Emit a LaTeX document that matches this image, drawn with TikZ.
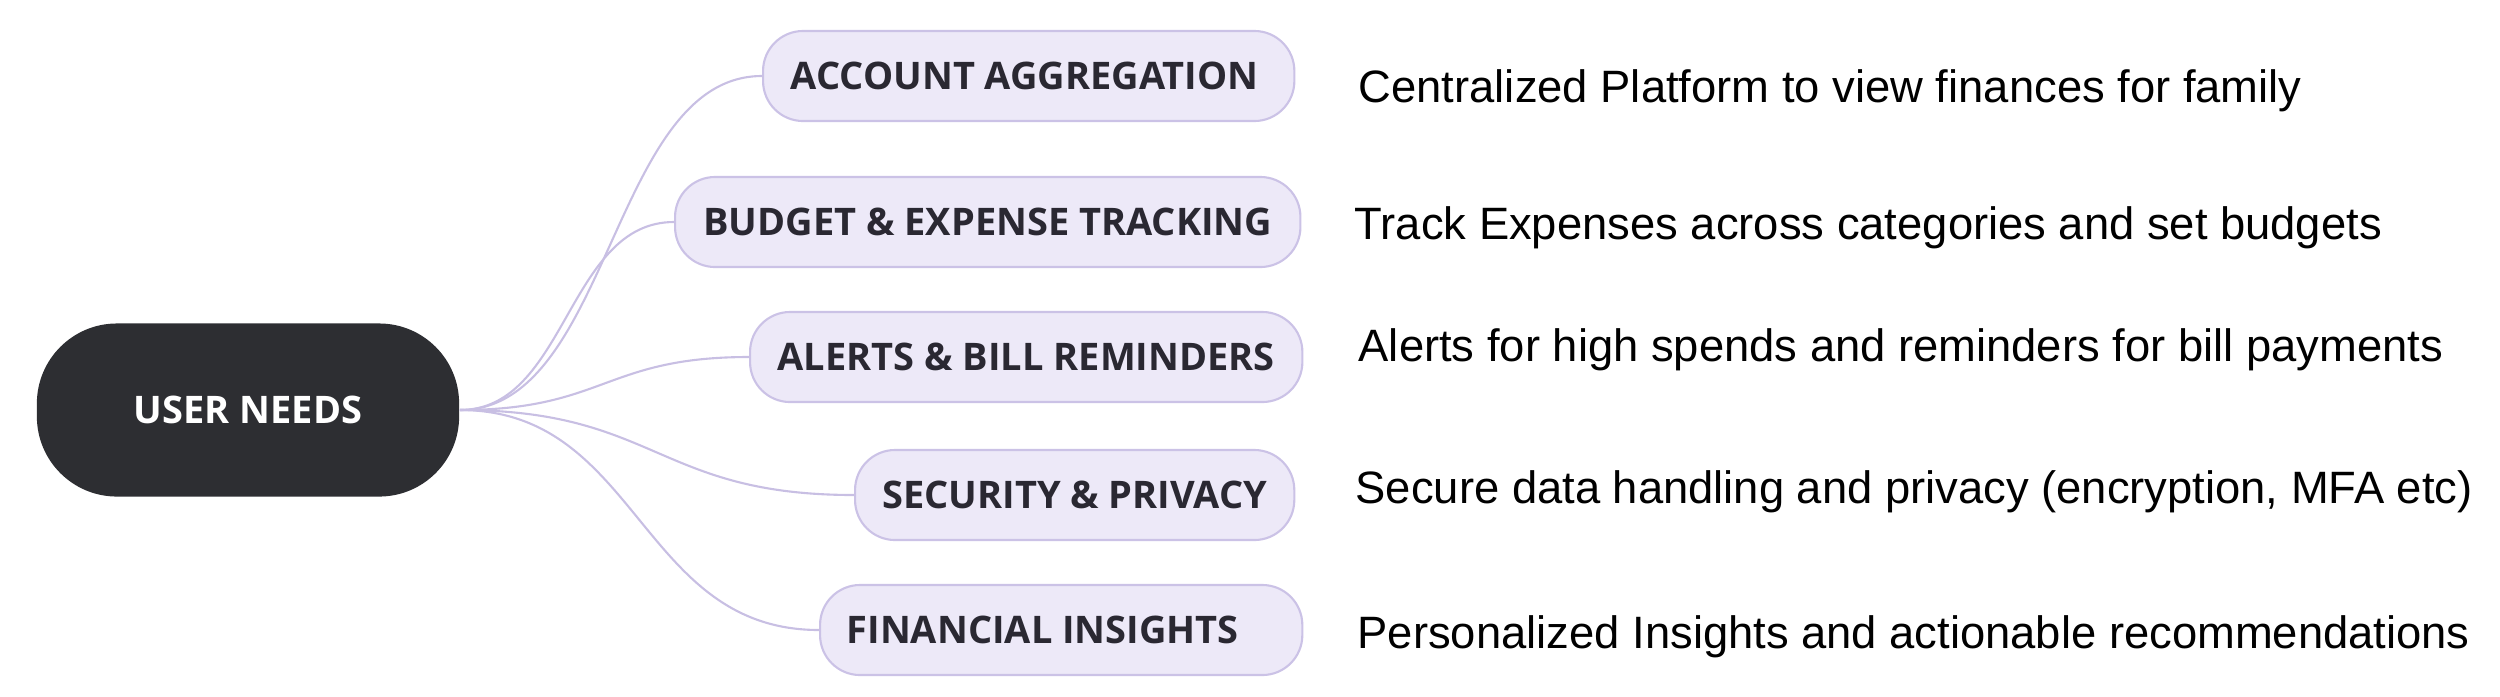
\documentclass[tikz,border=0pt]{standalone}
\usepackage{fontspec}
\setmainfont{Liberation Sans}
\newfontfamily\mapfont{Open Sans}
\usetikzlibrary{calc}

\definecolor{rootfill}{HTML}{2D2E32}
\definecolor{needfill}{HTML}{EDE9F8}
\definecolor{needline}{HTML}{CBC2E6}
\definecolor{linkcol}{HTML}{C8BFE3}
\definecolor{needtext}{HTML}{2A2832}

\tikzset{
  root/.style={fill=rootfill, rounded corners=0.8cm, minimum width=4.22cm,
    minimum height=1.73cm, text=white,
    font=\mapfont\bfseries\fontsize{10.8}{13}\selectfont},
  need/.style={draw=needline, line width=0.6pt, fill=needfill,
    rounded corners=0.4cm, anchor=west, minimum height=0.9cm,
    inner xsep=0.26cm, text=needtext,
    font=\mapfont\bfseries\fontsize{10.8}{13}\selectfont},
  note/.style={anchor=base west, inner sep=0pt,
    font=\fontsize{12.9}{15}\selectfont},
  link/.style={draw=linkcol, line width=0.6pt},
}

\begin{document}
\begin{tikzpicture}[x=0.01cm, y=-0.01cm]
  \useasboundingbox (0,0) rectangle (2500,696);

  % centre
  \node[root] (root) at (248,410) {USER NEEDS};

  % needs
  \node[need, minimum width=5.31cm] (acc) at (762,76) {ACCOUNT AGGREGATION\kern0.08cm};
  \node[need, minimum width=6.25cm] (bud) at (674,222) {BUDGET \& EXPENSE TRACKING};
  \node[need, minimum width=5.52cm] (alr) at (749,357) {ALERTS \& BILL REMINDERS};
  \node[need, minimum width=4.39cm] (sec) at (854,495) {SECURITY \& PRIVACY};
  \node[need, minimum width=4.82cm] (fin) at (819,630) {FINANCIAL INSIGHTS\kern0.37cm};

  % notes
  \node[note] (accnote) at (1358,102) {Centralized Platform to view finances for family};
  \node[note] (budnote) at (1354,239) {Track Expenses across categories and set budgets};
  \node[note] (alrnote) at (1358,361) {Alerts for high spends and reminders for bill payments};
  \node[note] (secnote) at (1355,503) {Secure data handling and privacy (encryption, MFA etc)};
  \node[note] (finnote) at (1357,648) {Personalized Insights and actionable recommendations};

  % links
  \foreach \need in {acc,bud,alr,sec,fin}
    \draw[link] let \p1=(root.east), \p2=(\need.west) in
      (\p1) .. controls ({(\x1+\x2)/2},\y1) and ({(\x1+\x2)/2},\y2) .. (\p2);
\end{tikzpicture}
\end{document}
